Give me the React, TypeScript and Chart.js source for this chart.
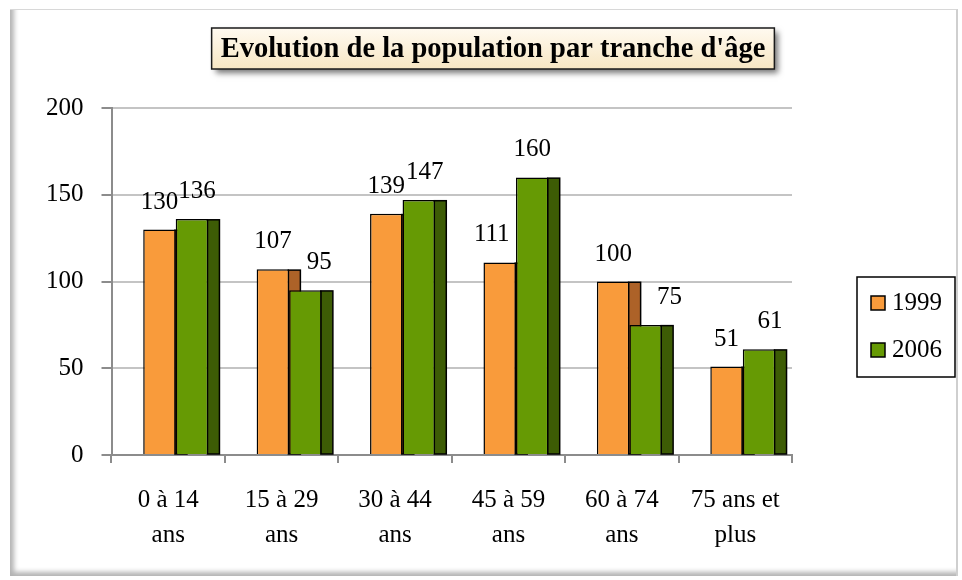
import React, { useEffect, useRef } from "react";
import { Chart, registerables } from "chart.js";

Chart.register(...registerables);

const TITLE = "Evolution de la population par tranche d'âge";
const categories: string[][] = [
  ["0 à 14", "ans"],
  ["15 à 29", "ans"],
  ["30 à 44", "ans"],
  ["45 à 59", "ans"],
  ["60 à 74", "ans"],
  ["75 ans et", "plus"],
];
const seriesNames = ["1999", "2006"];
const values1999 = [130, 107, 139, 111, 100, 51];
const values2006 = [136, 95, 147, 160, 75, 61];
const yMin = 0;
const yMax = 200;
const yStep = 50;

// Horizontal nudges of the value labels (style only), as placed in the original
const labelNudges = [
  [0, 0, 0, -8, 0, 0],
  [5, 14, 6, 0, 24, 11],
];

const FONT = "'Liberation Serif', 'Times New Roman', serif";
const frontColors = ["#F99B3B", "#669A04"];
const sideColors = ["#AD6228", "#3D5C05"];
const DEPTH = 12;
const SHIFT = 7.5;

const excelPlugin = {
  id: "excel3d",
  beforeDatasetsDraw(chart: any) {
    const ctx = chart.ctx;
    ctx.save();
    ctx.translate(SHIFT, 0);
    chart.data.datasets.forEach((_ds: any, idx: number) => {
      const meta = chart.getDatasetMeta(idx);
      meta.data.forEach((bar: any) => {
        const p = bar.getProps(["x", "y", "base", "width"], true);
        const x0 = p.x + p.width / 2 - 0.75;
        ctx.save();
        ctx.fillStyle = sideColors[idx];
        ctx.fillRect(x0, p.y + 0.75, DEPTH, p.base - p.y - 0.75);
        ctx.strokeStyle = "#000";
        ctx.lineWidth = 1.5;
        ctx.strokeRect(x0, p.y + 0.75, DEPTH, p.base - p.y - 0.75);
        ctx.restore();
      });
    });
  },
  afterDatasetsDraw(chart: any) {
    const ctx = chart.ctx;
    ctx.save();
    ctx.font = `25px ${FONT}`;
    ctx.fillStyle = "#000";
    ctx.textAlign = "center";
    ctx.textBaseline = "middle";
    chart.data.datasets.forEach((ds: any, i: number) => {
      const meta = chart.getDatasetMeta(i);
      meta.data.forEach((bar: any, j: number) => {
        ctx.fillText(String(ds.data[j]), bar.x + labelNudges[i][j], bar.y - 27.5);
      });
    });
    ctx.restore();
    ctx.restore();
  },
  afterDraw(chart: any) {
    const ctx = chart.ctx;
    ctx.save();
    ctx.font = `bold 28.5px ${FONT}`;
    const tw = ctx.measureText(TITLE).width;
    const cx = 493;
    const bx = cx - tw / 2 - 9;
    const bw = tw + 18;
    const by = 28;
    const bh = 41;
    ctx.save();
    ctx.shadowColor = "rgba(0,0,0,0.55)";
    ctx.shadowBlur = 6;
    ctx.shadowOffsetX = 4;
    ctx.shadowOffsetY = 4;
    const g = ctx.createLinearGradient(0, by, 0, by + bh);
    g.addColorStop(0, "#fffaf0");
    g.addColorStop(1, "#f7e6c3");
    ctx.fillStyle = g;
    ctx.fillRect(bx, by, bw, bh);
    ctx.restore();
    ctx.strokeStyle = "#1a1a1a";
    ctx.lineWidth = 1.5;
    ctx.strokeRect(bx, by, bw, bh);
    ctx.fillStyle = "#000";
    ctx.textAlign = "center";
    ctx.textBaseline = "middle";
    ctx.fillText(TITLE, cx, by + bh / 2 + 1);
    ctx.restore();

    ctx.save();
    ctx.strokeStyle = "#000";
    ctx.lineWidth = 1.5;
    ctx.strokeRect(857, 277, 98, 100);
    ctx.font = `25px ${FONT}`;
    ctx.textBaseline = "middle";
    ctx.textAlign = "left";
    chart.data.datasets.forEach((ds: any, i: number) => {
      const cy = 303 + i * 47;
      ctx.fillStyle = ds.backgroundColor;
      ctx.fillRect(871, cy - 7, 14, 14);
      ctx.strokeStyle = "#000";
      ctx.lineWidth = 1.5;
      ctx.strokeRect(871, cy - 7, 14, 14);
      ctx.fillStyle = "#000";
      ctx.fillText(ds.label, 892, cy);
    });
    ctx.restore();
  },
};

export default function App() {
  const ref = useRef<HTMLCanvasElement>(null);
  useEffect(() => {
    if (!ref.current) return;
    const chart = new Chart(ref.current, {
      type: "bar",
      data: {
        labels: categories,
        datasets: [
          {
            label: seriesNames[0],
            data: values1999,
            backgroundColor: frontColors[0],
            borderColor: "#000",
            borderWidth: 1.5,
          },
          {
            label: seriesNames[1],
            data: values2006,
            backgroundColor: frontColors[1],
            borderColor: "#000",
            borderWidth: 1.5,
          },
        ],
      },
      options: {
        responsive: false,
        animation: false,
        events: [],
        layout: { padding: { top: 108, right: 170, bottom: 0, left: 0 } },
        datasets: { bar: { categoryPercentage: 0.573, barPercentage: 1 } },
        plugins: {
          legend: { display: false },
          title: { display: false },
          tooltip: { enabled: false },
        },
        scales: {
          x: {
            afterFit: (s: any) => {
              s.height = 125;
            },
            grid: {
              drawOnChartArea: false,
              drawTicks: true,
              tickLength: 8,
              tickColor: "#8c8c8c",
              lineWidth: 2,
              offset: true,
            },
            border: { color: "#8c8c8c", width: 2 },
            ticks: {
              color: "#000",
              font: { family: FONT, size: 25, lineHeight: 1.4 },
              padding: 20,
              maxRotation: 0,
              autoSkip: false,
            },
          },
          y: {
            min: yMin,
            max: yMax,
            afterFit: (s: any) => {
              s.width = 111.5;
            },
            grid: {
              color: "#c4c4c4",
              lineWidth: 2,
              tickLength: 10,
              tickColor: "#8c8c8c",
            },
            border: { color: "#8c8c8c", width: 2 },
            ticks: {
              stepSize: yStep,
              color: "#000",
              font: { family: FONT, size: 25 },
              padding: 18,
            },
          },
        },
      },
      plugins: [excelPlugin],
    });
    return () => chart.destroy();
  }, []);

  return (
    <div style={{ position: "fixed", left: 0, top: 0, width: 962, height: 580, background: "#fff" }}>
      <div
        style={{
          position: "absolute",
          left: 10,
          top: 9,
          width: 948,
          height: 567,
          boxSizing: "border-box",
          borderTop: "1px solid #d8d8d8",
          borderRight: "2px solid #cfcfcf",
          boxShadow: "inset 7px -7px 5px -3px rgba(0,0,0,0.3)",
        }}
      />
      <canvas ref={ref} width={962} height={580} style={{ position: "absolute", left: 0, top: 0 }} />
    </div>
  );
}
